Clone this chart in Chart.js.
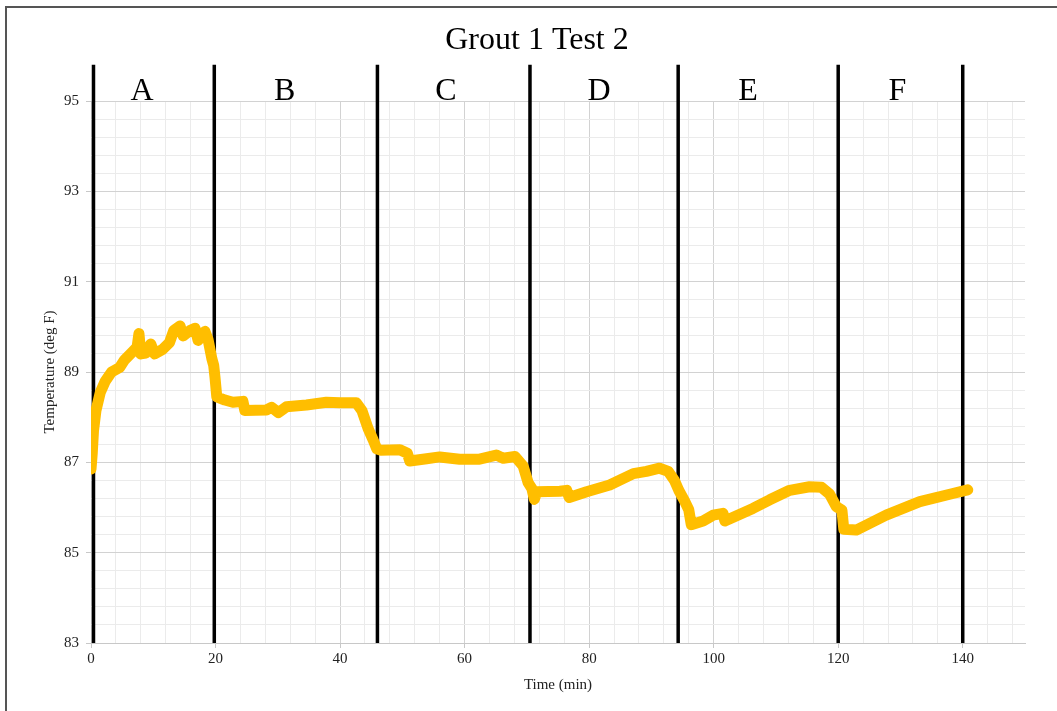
<!DOCTYPE html>
<html>
<head>
<meta charset="utf-8">
<title>Grout 1 Test 2</title>
<script src="https://cdn.jsdelivr.net/npm/chart.js@4.4.1/dist/chart.umd.min.js"></script>
<style>
    html, body { margin: 0; padding: 0; background: #fff; overflow: hidden; }
    #wrap { position: relative; width: 1057px; height: 711px; }
    #frame {
        position: absolute; left: 5px; top: 6px; width: 1100px; height: 800px;
        border: 2px solid #555; box-sizing: border-box;
    }
    #chart { position: absolute; left: 0; top: 0; }
</style>
</head>
<body>
<div id="wrap">
    <div id="frame"></div>
    <canvas id="chart" width="1057" height="711"></canvas>
</div>
<script>
// Data
const chartTitle = "Grout 1 Test 2";

const timeMin = [
    0, 0.2, 0.4, 0.8, 1.5, 2.3, 3.3, 4.6, 5.4, 6.7, 7.4, 7.7, 8.0, 8.8, 9.6, 10.2,
    11.5, 12.6, 13.3, 14.3, 14.8, 15.9, 16.7, 17.2, 18.3, 18.8, 19.4, 19.7, 19.9, 20.2,
    21.5, 22.8, 24.4, 24.7, 28.2, 29.0, 30.1, 31.4, 34.6, 37.8, 40, 42.6, 43.5, 44.5,
    45.3, 45.9, 46.5, 49.6, 50.8, 51.2, 53.9, 56, 59.2, 62.4, 65.1, 66.2, 68.1, 69.4,
    70.2, 70.8, 71.2, 71.6, 75.3, 76.4, 76.8, 79.6, 83.3, 87.1, 89.2, 91.3, 92.7, 93.7,
    94.4, 95.3, 96.0, 96.4, 98.3, 99.9, 101.5, 101.8, 106.3, 109, 112.2, 115.4, 117.3,
    118.6, 119.7, 120.6, 120.9, 122.9, 127.7, 133.1, 138.4, 140.8
];
const tempF = [
    86.85, 87.2, 87.7, 88.15, 88.55, 88.8, 89.0, 89.1, 89.27, 89.45, 89.55, 89.85, 89.4, 89.42, 89.62, 89.4,
    89.5, 89.65, 89.92, 90.02, 89.8, 89.92, 89.97, 89.7, 89.9, 89.72, 89.3, 89.15, 88.9, 88.45,
    88.38, 88.33, 88.35, 88.15, 88.16, 88.22, 88.1, 88.23, 88.27, 88.33, 88.32, 88.32, 88.15, 87.75,
    87.5, 87.3, 87.27, 87.28, 87.2, 87.03, 87.08, 87.12, 87.07, 87.07, 87.16, 87.09, 87.13, 86.92,
    86.55, 86.42, 86.18, 86.35, 86.36, 86.38, 86.22, 86.35, 86.5, 86.75, 86.8, 86.87, 86.8, 86.6,
    86.38, 86.15, 85.95, 85.62, 85.7, 85.83, 85.87, 85.7, 85.98, 86.17, 86.38, 86.46, 86.45,
    86.3, 86.02, 85.94, 85.52, 85.5, 85.83, 86.13, 86.31, 86.39
];

// phase boundaries (min) and the phase letters
const phaseTimes = [0.4, 19.8, 46.0, 70.5, 94.3, 120.0, 140.0];
const phaseLabels = ["A", "B", "C", "D", "E", "F"];
const phaseLabelTimes = [8.2, 31.1, 57.0, 81.6, 105.5, 129.5];
const phaseLineTop = 95.8;

// axes
const xMin = 0, xMax = 150, xStep = 4, xMajor = 20;
const yMin = 83, yMax = 95, yStep = 0.4, yMajor = 2;

const serif = '"Liberation Serif", "Times New Roman", serif';
const majorGrid = '#d2d2d2';
const minorGrid = '#ebebeb';

function isMajor(v, base, step) {
    const r = (v - base) / step;
    return Math.abs(r - Math.round(r)) < 1e-6;
}

const seriesPoints = timeMin.map((t, i) => ({ x: t, y: tempF[i] }));
const phasePoints = [];
phaseTimes.forEach(t => {
    phasePoints.push({ x: t, y: yMin }, { x: t, y: phaseLineTop }, { x: t, y: null });
});

// title + phase letters
const labelsPlugin = {
    id: 'phaseLetters',
    afterDraw(chart) {
        const ctx = chart.ctx;
        const xs = chart.scales.x, ys = chart.scales.y;
        ctx.save();
        ctx.fillStyle = '#000';
        ctx.textAlign = 'center';
        ctx.textBaseline = 'alphabetic';
        ctx.font = '32px ' + serif;
        ctx.fillText(chartTitle, (xs.left + xs.right) / 2 - 21, 49);
        const baseY = ys.getPixelForValue(yMax) - 1;
        phaseLabels.forEach((lab, i) => {
            ctx.fillText(lab, xs.getPixelForValue(phaseLabelTimes[i]), baseY);
        });
        ctx.restore();
    }
};

new Chart(document.getElementById('chart'), {
    type: 'line',
    data: {
        datasets: [{
            label: 'Temperature',
            data: seriesPoints,
            borderColor: 'rgb(255, 190, 0)',
            borderWidth: 11,
            borderCapStyle: 'round',
            borderJoinStyle: 'round',
            pointRadius: 0,
            tension: 0,
            fill: false
        }, {
            label: 'Phases',
            data: phasePoints,
            borderColor: '#000',
            borderWidth: 3.5,
            pointRadius: 0,
            spanGaps: false,
            clip: false,
            fill: false
        }]
    },
    options: {
        responsive: false,
        animation: false,
        events: [],
        layout: { padding: { left: 0, top: 101, right: 32, bottom: 0 } },
        plugins: {
            legend: { display: false },
            tooltip: { enabled: false },
            title: { display: false }
        },
        scales: {
            x: {
                type: 'linear',
                min: xMin,
                max: xMax,
                afterFit: s => { s.height = 68; },
                border: { display: true, color: '#c8c8c8', width: 1 },
                grid: {
                    color: c => isMajor(c.tick.value, xMin, xMajor) ? majorGrid : minorGrid,
                    tickColor: c => isMajor(c.tick.value, xMin, xMajor) ? '#c8c8c8' : 'rgba(0,0,0,0)',
                    tickLength: 5
                },
                ticks: {
                    stepSize: xStep,
                    includeBounds: false,
                    autoSkip: false,
                    maxRotation: 0,
                    padding: 2,
                    color: '#222',
                    font: { family: serif, size: 15 },
                    callback: v => isMajor(v, xMin, xMajor) ? String(Math.round(v)) : ''
                },
                title: {
                    display: true,
                    text: 'Time (min)',
                    color: '#222',
                    font: { family: serif, size: 15 },
                    padding: { top: 0, bottom: 17 }
                }
            },
            y: {
                type: 'linear',
                min: yMin,
                max: yMax,
                afterFit: s => { s.width = 91; },
                border: { display: false },
                grid: {
                    color: c => isMajor(c.tick.value, yMin, yMajor) ? majorGrid : minorGrid,
                    tickColor: c => isMajor(c.tick.value, yMin, yMajor) ? '#c8c8c8' : 'rgba(0,0,0,0)',
                    tickLength: 5
                },
                ticks: {
                    stepSize: yStep,
                    autoSkip: false,
                    padding: 7,
                    color: '#222',
                    font: { family: serif, size: 15 },
                    callback: v => isMajor(v, yMin, yMajor) ? String(Math.round(v)) : ''
                },
                title: {
                    display: true,
                    text: 'Temperature (deg F)',
                    color: '#222',
                    font: { family: serif, size: 15 },
                    padding: { top: 41, bottom: 0 }
                }
            }
        }
    },
    plugins: [labelsPlugin]
});
</script>
</body>
</html>
